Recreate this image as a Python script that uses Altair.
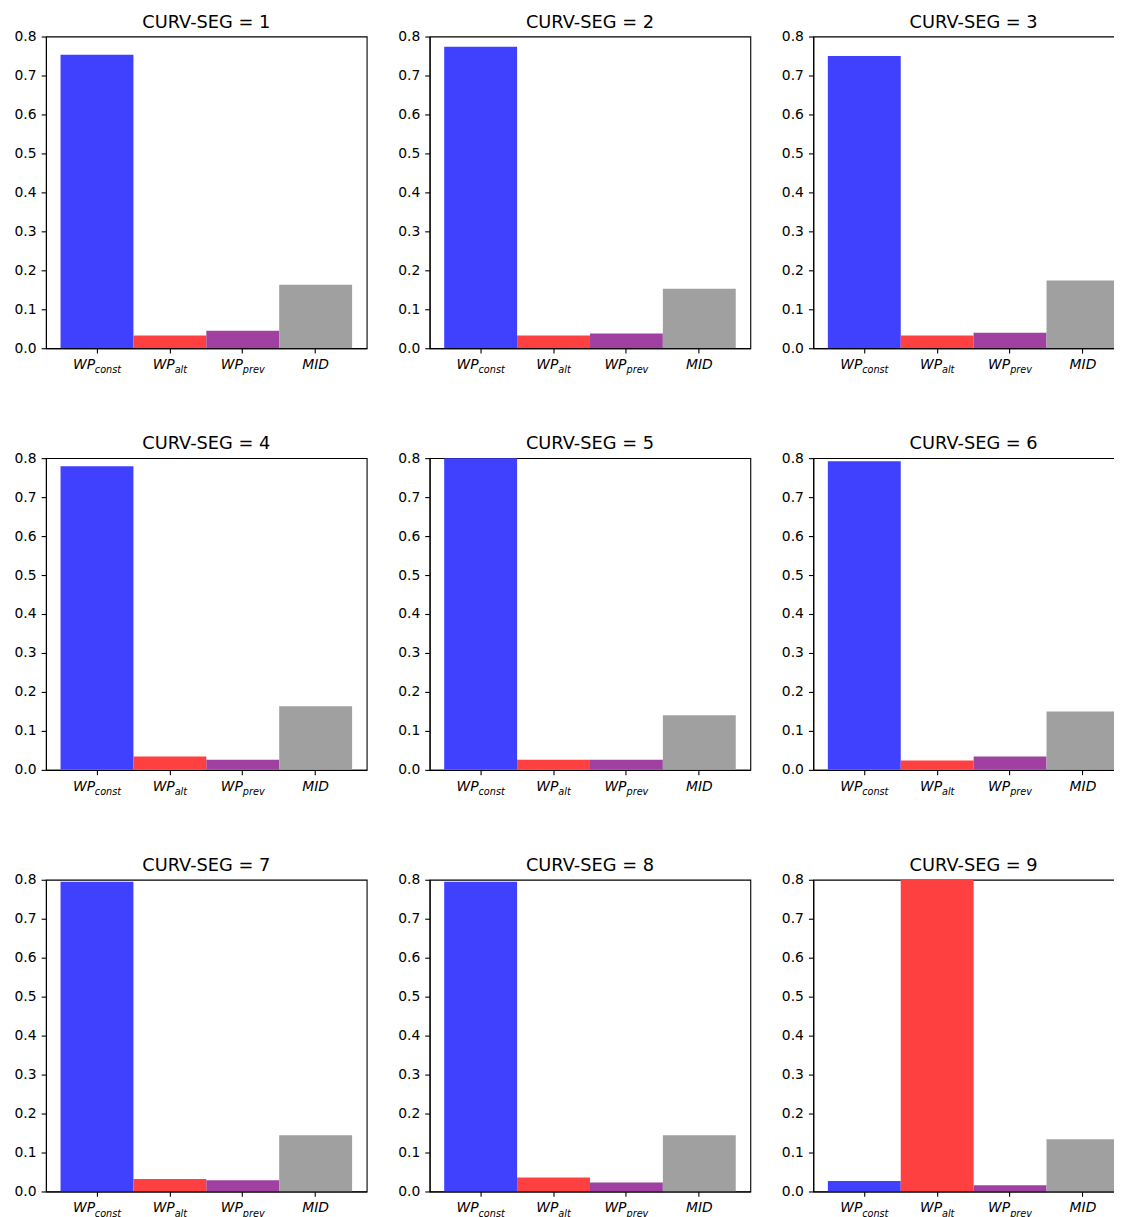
import altair as alt
import pandas as pd

categories = ["const", "alt", "prev", "MID"]
bar_colors = ["#4040FF", "#FF4040", "#A040A0", "#A0A0A0"]
segments = [1, 2, 3, 4, 5, 6, 7, 8, 9]
y_ticks = [0.0, 0.1, 0.2, 0.3, 0.4, 0.5, 0.6, 0.7, 0.8]

seg1 = [0.753, 0.033, 0.045, 0.163]
seg2 = [0.774, 0.033, 0.038, 0.153]
seg3 = [0.750, 0.033, 0.040, 0.174]
seg4 = [0.779, 0.034, 0.026, 0.163]
seg5 = [0.805, 0.026, 0.026, 0.140]
seg6 = [0.792, 0.024, 0.034, 0.150]
seg7 = [0.795, 0.032, 0.029, 0.144]
seg8 = [0.795, 0.036, 0.023, 0.144]
seg9 = [0.027, 0.820, 0.016, 0.134]
all_values = [seg1, seg2, seg3, seg4, seg5, seg6, seg7, seg8, seg9]

FONT = "DejaVu Sans"
W, H = 321, 312

main_x_axis = alt.Axis(
    orient="bottom",
    labelExpr="datum.value == 'MID' ? 'MID' : 'WP'",
    labelFontStyle="italic",
    labelAngle=0,
    labelPadding=4.4,
    labelOverlap=False,
    labelOffset={
        "condition": [
            {"test": "datum.value === 'const'", "value": -13},
            {"test": "datum.value === 'prev'", "value": -11},
            {"test": "datum.value === 'alt'", "value": -6.2},
        ],
        "value": 0,
    },
    grid=False,
    title=None,
)

sub_x_axis = alt.Axis(
    orient="bottom",
    labelExpr="datum.value == 'MID' ? '' : datum.value",
    labelFontStyle="italic",
    labelFontSize=9.7,
    labelAngle=0,
    labelPadding=11.7,
    labelOverlap=False,
    labelOffset=11,
    domain=False,
    tickOpacity=0,
    grid=False,
    title=None,
)


def panel(seg, vals):
    df = pd.DataFrame({"cat": categories, "v": vals})
    base = alt.Chart(df)
    bars = base.mark_bar(clip=True).encode(
        x=alt.X(
            "cat:N",
            sort=categories,
            scale=alt.Scale(paddingInner=0, paddingOuter=0.2),
            axis=main_x_axis,
        ),
        y=alt.Y(
            "v:Q",
            scale=alt.Scale(domain=[0, 0.8], nice=False, zero=True),
            axis=alt.Axis(values=y_ticks, format=".1f", grid=False, title=None,
                          labelPadding=5),
        ),
        color=alt.Color("cat:N", scale=alt.Scale(domain=categories, range=bar_colors),
                        legend=None),
    )
    sub = base.mark_bar(opacity=0).encode(
        x=alt.X("cat:N", sort=categories, axis=sub_x_axis),
    )
    return (
        alt.layer(bars, sub)
        .resolve_axis(x="independent")
        .properties(
            width=W,
            height=H,
            title=alt.TitleParams(
                text=f"CURV-SEG = {seg}",
                font=FONT,
                fontSize=17.8,
                fontWeight="normal",
                color="black",
                anchor="middle",
                frame="group",
                offset=-16,
                baseline="alphabetic",
            ),
        )
    )


panels = [panel(s, v) for s, v in zip(segments, all_values)]

chart = (
    alt.concat(*panels, columns=3, spacing={"row": 110, "column": 63}, bounds="flush")
    .properties(padding={"left": 5, "top": 4, "right": -21, "bottom": 5})
    .configure_view(stroke="black", strokeWidth=1.1)
    .configure_axis(
        domainColor="black",
        domainWidth=1.1,
        tickColor="black",
        tickWidth=1.1,
        tickSize=4.86,
        labelFont=FONT,
        labelFontSize=13.9,
        labelColor="black",
        grid=False,
    )
)

chart.save("out.html", embed_options={"renderer": "svg", "actions": False})
